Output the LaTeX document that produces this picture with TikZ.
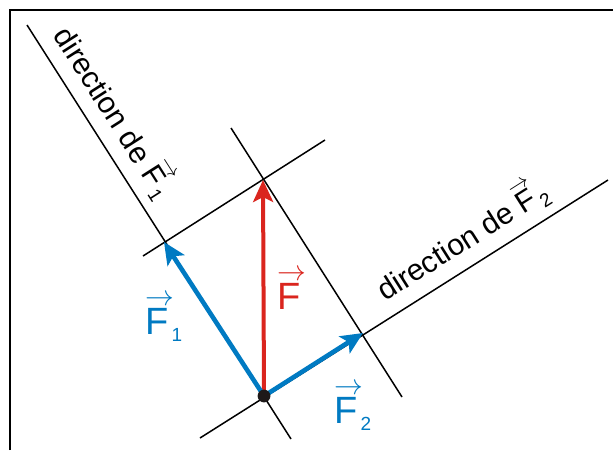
\documentclass[tikz,border=0pt]{standalone}
\usepackage{amsmath}
\usepackage{fontspec}
\setmainfont{Liberation Sans}
\usetikzlibrary{arrows.meta,calc}
\definecolor{forcered}{RGB}{218,37,30}
\definecolor{forceblue}{RGB}{0,122,194}
\definecolor{dotblack}{RGB}{30,25,25}
\newcommand{\arrF}{\rlap{\raisebox{0.74em}{$\scriptstyle\rightarrow$}}F}
\newcommand{\vecF}[1]{\arrF\kern1.5pt\raisebox{-0.2em}{\fontsize{9.5}{10}\selectfont #1}}
\tikzset{
  dirline/.style={black, line width=0.75pt},
  forcearr/.style={-{Stealth[length=11pt, width=10pt, inset=2.5pt]}, line width=2.3pt},
  dirlabel/.style={anchor=base west, inner sep=0pt, font=\fontsize{15}{18}\selectfont},
  veclabel/.style={anchor=base west, inner sep=0pt, font=\fontsize{19}{22}\selectfont},
}

\begin{document}
\begin{tikzpicture}[x=0.5pt, y=-0.5pt]
  \useasboundingbox (0,0) rectangle (613,450);
  \draw[line width=1.25pt] (10,450) -- (10,10) -- (613,10);
  % point of application and tips of the forces
  \coordinate (O) at (264,396);
  \coordinate (F) at (263,180);
  \coordinate (F1) at (164,242);
  \coordinate (F2) at (363,333);
  % ends of the direction lines
  \coordinate (d1a) at (27,25);   \coordinate (d1b) at (291,439);
  \coordinate (d2a) at (200,438); \coordinate (d2b) at (608,180);
  \coordinate (p1a) at (143,256); \coordinate (p1b) at (325,140);
  \coordinate (p2a) at (231,128); \coordinate (p2b) at (402,397);
  \draw[dirline] (d1a) -- (d1b);
  \draw[dirline] (d2a) -- (d2b);
  \draw[dirline] (p1a) -- (p1b);
  \draw[dirline] (p2a) -- (p2b);
  \node[dirlabel, rotate=-57.5] (dir1) at ($(d1a)!0.045!(d1b)!8pt!90:(d1b)$) {direction de \vecF{1}};
  \node[dirlabel, rotate=32.3] (dir2) at ($(d2a)!0.475!(d2b)!8pt!90:(d2b)$) {direction de \vecF{2}};
  % forces
  \draw[forcearr, forcered, line width=2pt] (O) -- (F);
  \draw[forcearr, forceblue] (O) -- (F1);
  \draw[forcearr, forceblue] (O) -- (F2);
  \fill[dotblack] (O) circle (3.2pt);
  \node[veclabel, text=forcered] (labF) at (277,309) {\arrF};
  \node[veclabel, text=forceblue] (labF1) at (145,334) {\vecF{1}};
  \node[veclabel, text=forceblue] (labF2) at (334,423) {\vecF{2}};
\end{tikzpicture}
\end{document}
